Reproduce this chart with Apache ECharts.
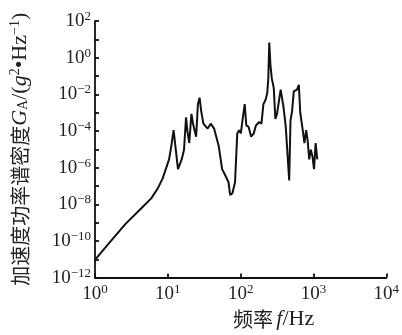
<!DOCTYPE html>
<html>
<head>
<meta charset="utf-8">
<script src="https://cdn.jsdelivr.net/npm/echarts@6/dist/echarts.min.js"></script>
<style>
  html, body { margin: 0; padding: 0; background: #fff; }
  #chart { width: 402px; height: 335px; }
</style>
</head>
<body>
<div id="chart"></div>
<script>
// 频率 (Hz)
var freq = [1, 1.57, 2.61, 4.36, 5.92, 7.26, 8.47, 9.38, 10.4, 11.2, 12.0,
  13.8, 15.5, 16.7, 17.8, 18.5, 19.7, 21.1, 22.2, 24.5, 25.9,
  27.3, 28.7, 30.8, 35.2, 38.9, 43.2, 50.1, 55.7, 61.7, 68.2,
  71.8, 77.1, 83.8, 89.9, 95.5, 100.7, 105.9, 113.8, 119.7, 128.8,
  139.6, 151.4, 162.2, 179.9, 193.2, 205.6, 220.8, 232.3, 239.9, 247.2,
  257, 267.9, 285.1, 299.9, 316.2, 331.1, 354.8, 389, 416.9, 436.5,
  464.5, 484.2, 509.3, 537, 594.3, 631, 657.7, 712.9, 751.6, 794.3,
  831.8, 874.9, 920.4, 968.3, 1018.6, 1071.5, 1129.8];
// 加速度功率谱密度 (g^2/Hz)
var psd = [9.3e-12, 7.8e-11, 8.3e-10, 6.3e-9, 2.1e-8, 7.2e-8, 2.5e-7, 8.3e-7, 2.8e-6, 1.6e-5, 1.1e-4,
  8.3e-7, 2.8e-6, 9.5e-6, 5.6e-4, 1.1e-4, 2.2e-5, 8.5e-4, 2.5e-4, 4.9e-5, 2.9e-3,
  6.5e-3, 1.26e-3, 2.5e-4, 1.35e-4, 2.5e-4, 1.35e-4, 1.45e-5, 8.3e-7, 3.7e-7, 1.6e-7,
  3.2e-8, 4e-8, 1.6e-7, 7.4e-5, 1.1e-4, 7.4e-5, 3.7e-4, 2.9e-3, 2.0e-4, 1.66e-4,
  4.9e-5, 7.4e-5, 2.0e-4, 3.1e-4, 2.5e-4, 2.9e-3, 5.2e-3, 1.2e-2, 7.4e-2, 6.6,
  0.38, 7.4e-2, 2.2e-2, 4.6e-4, 8.5e-4, 2.9e-3, 1.8e-2, 1.9e-3, 1.66e-4, 1.35e-4,
  2e-7, 3.7e-4, 1.26e-3, 1.45e-2, 1.8e-2, 3.3e-2, 1.05e-3, 1.1e-4, 2.2e-5, 1.1e-4,
  3.2e-5, 2.8e-6, 9.5e-6, 4.3e-6, 8.3e-7, 2.2e-5, 2.8e-6];

var serif = '"Liberation Serif", "DejaVu Serif", serif';
var cjk = '"Noto Sans CJK SC", sans-serif';

function expOf(v) {
    return Math.round(Math.log10(v));
}
function powLabel(v) {
    var e = expOf(v);
    var s = e < 0 ? '\u2212' + (-e) : '' + e;
    return '10{sup|' + s + '}';
}
var labelRich = {
    sup: { fontSize: 13, fontFamily: serif, color: '#222', padding: [0, 0, 9, 0] }
};
var nameRich = {
    cn: { fontSize: 20, fontFamily: cjk, color: '#222' },
    i: { fontSize: 22, fontFamily: serif, fontStyle: 'italic', color: '#222' },
    r: { fontSize: 22, fontFamily: serif, color: '#222' },
    sub: { fontSize: 14, fontFamily: serif, color: '#222', padding: [7, 0, 0, 0] },
    sup: { fontSize: 14, fontFamily: serif, color: '#222', padding: [0, 0, 10, 0] }
};

var myChart = echarts.init(document.getElementById('chart'));
var option = {
    animation: false,
    grid: { left: 92, right: 10, top: 21, bottom: 50 },
    xAxis: {
        type: 'log',
        logBase: 10,
        min: 1,
        max: 10000,
        interval: 1,
        name: '{cn|频率} {i|f}{r|/Hz}',
        nameLocation: 'middle',
        nameGap: 23,
        nameTextStyle: { padding: [0, 0, 0, 66], rich: nameRich },
        axisLine: { lineStyle: { color: '#111', width: 1.8 } },
        axisTick: { inside: true, length: 4, lineStyle: { color: '#111', width: 1.8 } },
        splitLine: { show: false },
        axisLabel: {
            margin: 5,
            fontSize: 19, fontFamily: serif, color: '#222',
            formatter: powLabel,
            rich: labelRich
        }
    },
    yAxis: {
        type: 'log',
        logBase: 10,
        min: 1e-12,
        max: 100,
        interval: 1,
        name: '{cn|加速度功率谱密度}{i|G}{sub|A}{r|/(}{i|g}{sup|2}{r|•Hz}{sup|\u22121}{r|)}',
        nameLocation: 'middle',
        nameRotate: 90,
        nameGap: 63,
        nameTextStyle: { rich: nameRich },
        axisLine: { lineStyle: { color: '#111', width: 1.8 } },
        axisTick: { inside: true, length: 4, lineStyle: { color: '#111', width: 1.8 } },
        splitLine: { show: false },
        axisLabel: {
            margin: 4,
            fontSize: 19, fontFamily: serif, color: '#222',
            formatter: function (v) {
                // labels only on even exponents
                return expOf(v) % 2 === 0 ? powLabel(v) : '';
            },
            rich: labelRich
        }
    },
    series: [{
        type: 'line',
        showSymbol: false,
        symbol: 'none',
        lineStyle: { color: '#111', width: 2 },
        data: freq.map(function (f, i) { return [f, psd[i]]; })
    }]
};
myChart.setOption(option);
</script>
</body>
</html>
